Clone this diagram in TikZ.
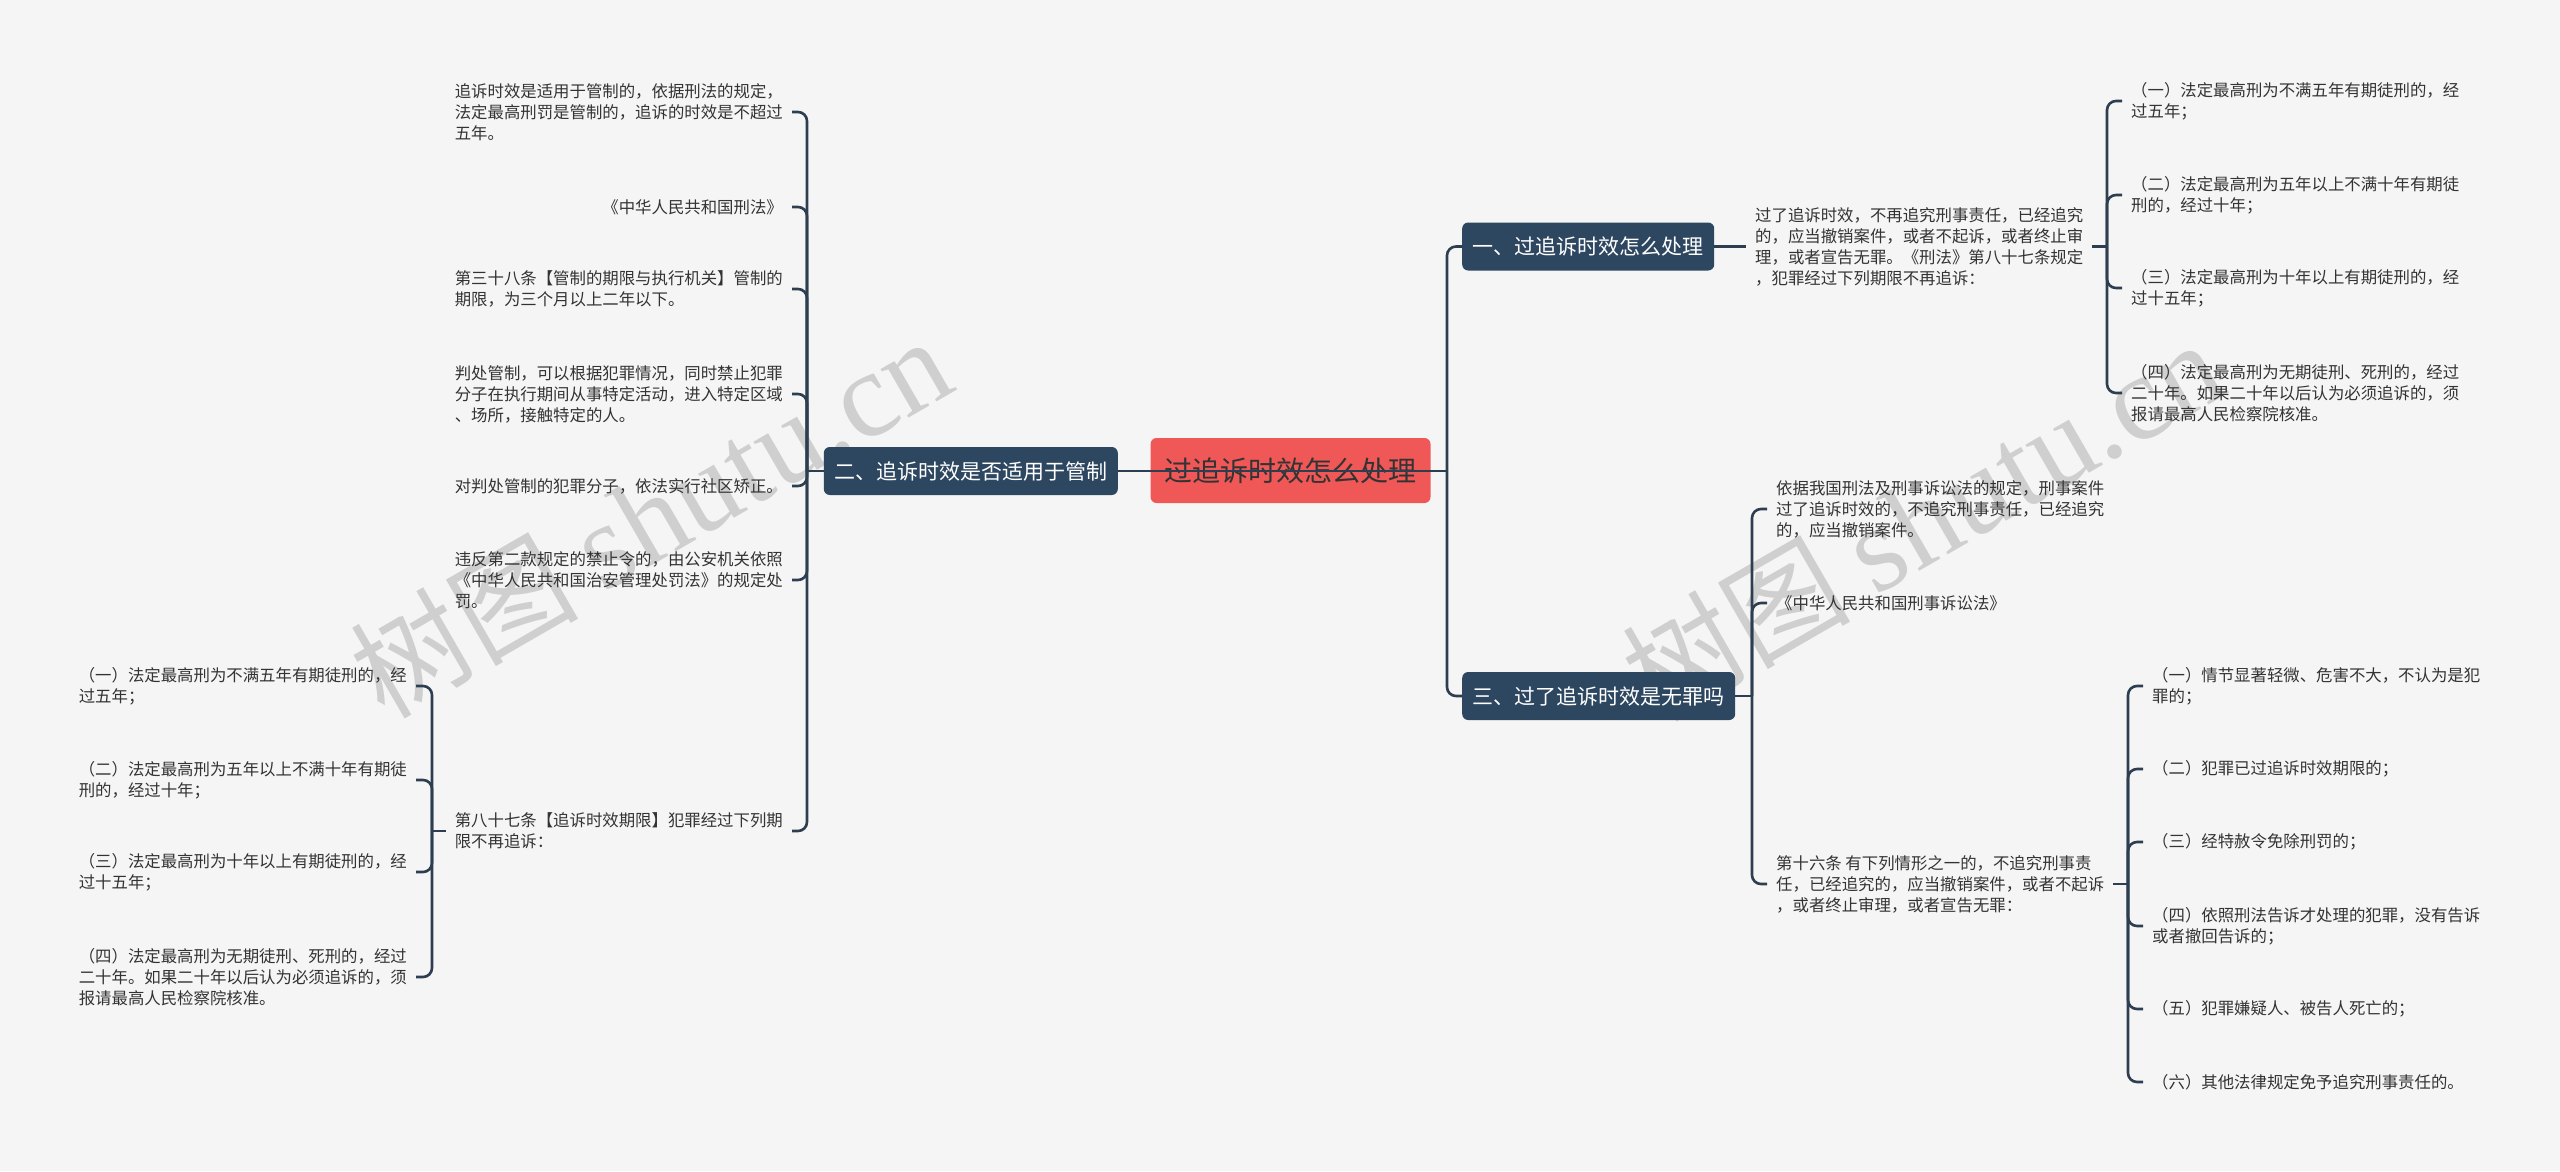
\documentclass[tikz,border=0pt]{standalone}
\usepackage{fontspec}
\setmainfont{Noto Sans CJK SC}
\newfontfamily\wmserif{Liberation Serif}
\definecolor{bg}{HTML}{F5F5F5}
\definecolor{ln}{HTML}{2C3E50}
\definecolor{br}{HTML}{2E4760}
\definecolor{rootc}{HTML}{F05757}
\definecolor{tx}{HTML}{333333}
\definecolor{wm}{HTML}{CFCFCF}
\begin{document}
\begin{tikzpicture}[x=1pt,y=-1pt,
  leaf/.style={inner xsep=9pt, inner ysep=2pt, align=left, text=tx, font=\fontsize{16.4}{21}\selectfont},
  branch/.style={fill=br, rounded corners=6pt, text=white, font=\fontsize{21}{25}\selectfont, inner xsep=10.5pt, inner ysep=14pt, text height=18pt, text depth=2pt},
  rootbox/.style={fill=rootc, rounded corners=6pt, text=tx, font=\fontsize{28}{32}\selectfont, inner xsep=14pt, inner ysep=19pt, text height=24pt, text depth=3pt},
  conn/.style={draw=ln, line width=2.6pt, rounded corners=9pt},
  wmark/.style={text=wm, rotate=30, inner sep=0pt, font=\fontsize{114}{120}\selectfont}]
\useasboundingbox (0,0) rectangle (2560,1171);
\fill[bg] (0,0) rectangle (2560,1171);

% watermarks
\node[wmark] (wm1) at (650,517) {树图 {\wmserif\fontsize{122}{130}\selectfont shutu.cn}};
\node[wmark] (wm2) at (1922,520) {树图 {\wmserif\fontsize{122}{130}\selectfont shutu.cn}};

% root and branches
\node[rootbox] (root) at (1290.5,470.5) {过追诉时效怎么处理};
\node[branch, anchor=west] (b1) at (1462,246.5) {一、过追诉时效怎么处理};
\node[branch, anchor=west] (b3) at (1462,696) {三、过了追诉时效是无罪吗};
\node[branch, anchor=east] (b2) at (1118,471) {二、追诉时效是否适用于管制};

% left leaves (branch 2)
\node[leaf, anchor=east] (a1) at (792,112) {追诉时效是适用于管制的，依据刑法的规定，\\法定最高刑罚是管制的，追诉的时效是不超过\\五年。};
\node[leaf, anchor=east] (a2) at (792,207) {《中华人民共和国刑法》};
\node[leaf, anchor=east] (a3) at (792,289) {第三十八条【管制的期限与执行机关】管制的\\期限，为三个月以上二年以下。};
\node[leaf, anchor=east] (a4) at (792,394) {判处管制，可以根据犯罪情况，同时禁止犯罪\\分子在执行期间从事特定活动，进入特定区域\\、场所，接触特定的人。};
\node[leaf, anchor=east] (a5) at (792,486) {对判处管制的犯罪分子，依法实行社区矫正。};
\node[leaf, anchor=east] (a6) at (792,580) {违反第二款规定的禁止令的，由公安机关依照\\《中华人民共和国治安管理处罚法》的规定处\\罚。};
\node[leaf, anchor=east] (a7) at (792,831) {第八十七条【追诉时效期限】犯罪经过下列期\\限不再追诉：};

\node[leaf, anchor=east] (s1) at (416,686) {（一）法定最高刑为不满五年有期徒刑的，经\\过五年；};
\node[leaf, anchor=east] (s2) at (416,780) {（二）法定最高刑为五年以上不满十年有期徒\\刑的，经过十年；};
\node[leaf, anchor=east] (s3) at (416,872) {（三）法定最高刑为十年以上有期徒刑的，经\\过十五年；};
\node[leaf, anchor=east] (s4) at (416,977) {（四）法定最高刑为无期徒刑、死刑的，经过\\二十年。如果二十年以后认为必须追诉的，须\\报请最高人民检察院核准。};

% right top (branch 1)
\node[leaf, anchor=west] (c1) at (1746,246.5) {过了追诉时效，不再追究刑事责任，已经追究\\的，应当撤销案件，或者不起诉，或者终止审\\理，或者宣告无罪。《刑法》第八十七条规定\\，犯罪经过下列期限不再追诉：};
\node[leaf, anchor=west] (r1) at (2122,101) {（一）法定最高刑为不满五年有期徒刑的，经\\过五年；};
\node[leaf, anchor=west] (r2) at (2122,195) {（二）法定最高刑为五年以上不满十年有期徒\\刑的，经过十年；};
\node[leaf, anchor=west] (r3) at (2122,288) {（三）法定最高刑为十年以上有期徒刑的，经\\过十五年；};
\node[leaf, anchor=west] (r4) at (2122,393) {（四）法定最高刑为无期徒刑、死刑的，经过\\二十年。如果二十年以后认为必须追诉的，须\\报请最高人民检察院核准。};

% right bottom (branch 3)
\node[leaf, anchor=west] (d1) at (1767,509) {依据我国刑法及刑事诉讼法的规定，刑事案件\\过了追诉时效的，不追究刑事责任，已经追究\\的，应当撤销案件。};
\node[leaf, anchor=west] (d2) at (1767,603) {《中华人民共和国刑事诉讼法》};
\node[leaf, anchor=west] (d3) at (1767,884) {第十六条 有下列情形之一的，不追究刑事责\\任，已经追究的，应当撤销案件，或者不起诉\\，或者终止审理，或者宣告无罪：};
\node[leaf, anchor=west] (e1) at (2143,686) {（一）情节显著轻微、危害不大，不认为是犯\\罪的；};
\node[leaf, anchor=west] (e2) at (2143,769) {（二）犯罪已过追诉时效期限的；};
\node[leaf, anchor=west] (e3) at (2143,842) {（三）经特赦令免除刑罚的；};
\node[leaf, anchor=west] (e4) at (2143,926) {（四）依照刑法告诉才处理的犯罪，没有告诉\\或者撤回告诉的；};
\node[leaf, anchor=west] (e5) at (2143,1009) {（五）犯罪嫌疑人、被告人死亡的；};
\node[leaf, anchor=west] (e6) at (2143,1082) {（六）其他法律规定免予追究刑事责任的。};

% connectors
\coordinate (tR) at (1447,471);
\coordinate (tL) at (807,471);
\draw[conn] (b2.east) -- (tR);
\draw[conn] (tR) |- (b1.west);
\draw[conn] (tR) |- (b3.west);
\draw[conn] (b2.west) -- (tL);
\foreach \n in {a1,a2,a3,a4,a5,a6,a7} \draw[conn] (tL) |- (\n.east);

\coordinate (tS) at (432,831);
\draw[conn] (a7.west) -- (tS);
\foreach \n in {s1,s2,s3,s4} \draw[conn] (tS) |- (\n.east);

\draw[conn] (b1.east) -- (c1.west);
\coordinate (tC) at (2107,246.5);
\draw[conn] (c1.east) -- (tC);
\foreach \n in {r1,r2,r3,r4} \draw[conn] (tC) |- (\n.west);

\coordinate (tB) at (1752,696);
\draw[conn] (b3.east) -- (tB);
\foreach \n in {d1,d2,d3} \draw[conn] (tB) |- (\n.west);

\coordinate (tD) at (2128,884);
\draw[conn] (d3.east) -- (tD);
\foreach \n in {e1,e2,e3,e4,e5,e6} \draw[conn] (tD) |- (\n.west);
\end{tikzpicture}
\end{document}
